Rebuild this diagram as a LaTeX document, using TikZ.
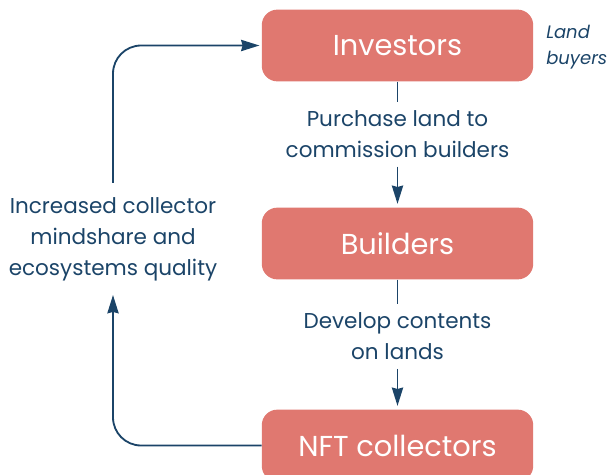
\documentclass[tikz,border=0pt]{standalone}
\usepackage{fontspec}
\setmainfont{Poppins}
\usetikzlibrary{arrows.meta, positioning, calc}
\definecolor{boxred}{HTML}{E07870}
\definecolor{inkblue}{HTML}{1B4468}

\begin{document}
\begin{tikzpicture}[x=0.025cm, y=-0.025cm]
            \tikzstyle{block} = [rectangle, rounded corners=11pt, fill=boxred, text=white, minimum width=193pt, minimum height=51pt, font=\fontsize{20.5}{24}\selectfont]
            \tikzstyle{lbl} = [align=center, text=inkblue, inner xsep=0pt, inner ysep=6pt, font=\fontsize{15.3}{22}\selectfont]
            \tikzstyle{link} = [line width=1.3pt, inkblue]
            \tikzstyle{arrow} = [link, -{Stealth[length=13pt, width=8pt, inset=1pt]}]
            \useasboundingbox (0,0) rectangle (610,474);

            \node[block] (inv) at (397.5,45.5) {Investors};
            \node[block] (bld) at (397.5,243.5) {Builders};
            \node[block] (nft) at (397.5,445.5) {NFT collectors};

            \node[align=left, anchor=west, inner xsep=0pt, text=inkblue, font=\fontsize{12.8}{18.5}\itshape] (buy) at (546,47) {Land\\buyers};

            \node[lbl] (buyland) at (397.5,134.5) {Purchase land to\\commission builders};
            \node[lbl] (dev) at (397.5,336.5) {Develop contents\\on lands};
            \node[lbl, inner ysep=10pt] (fb) at (113,239) {Increased collector\\mindshare and\\ecosystems quality};

            \draw[link] (inv.south) -- (buyland.north);
            \draw[arrow, shorten >=2.5pt] (buyland.south) -- (bld.north);
            \draw[link] (bld.south) -- (dev.north);
            \draw[arrow, shorten >=2.5pt] (dev.south) -- (nft.north);
            \draw[arrow, rounded corners=20pt] (nft.west) -| (fb.south);
            \draw[arrow, rounded corners=20pt, shorten >=1.5pt] (fb.north) |- (inv.west);
        \end{tikzpicture}
\end{document}
